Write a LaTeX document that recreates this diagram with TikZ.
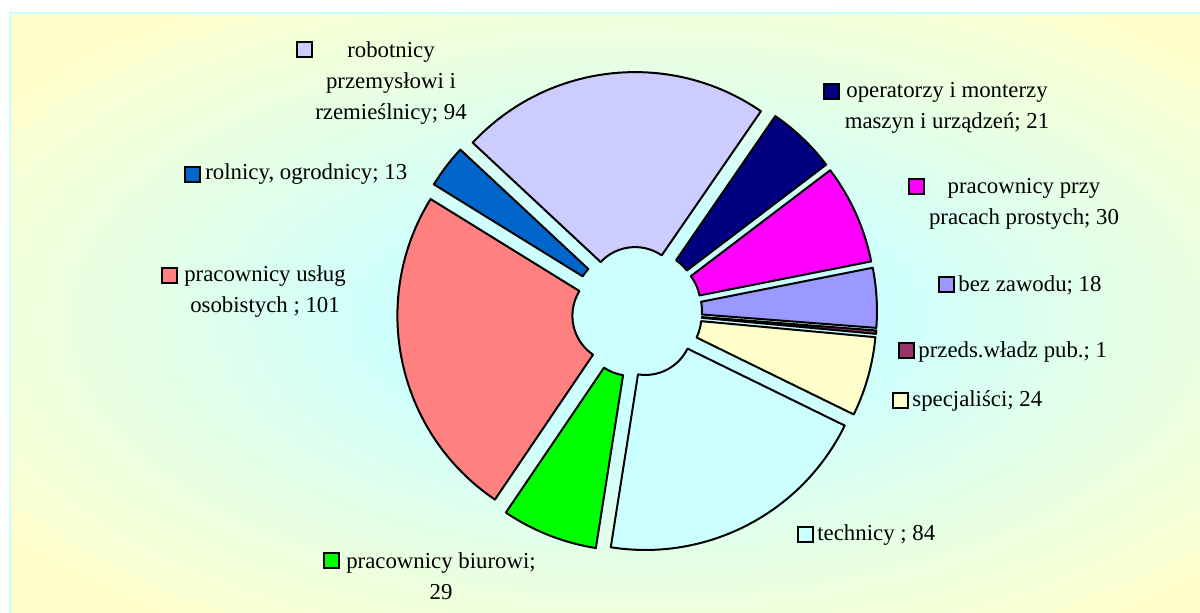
\documentclass[tikz,border=0pt]{standalone}
\usepackage{fontspec}
\setmainfont{Liberation Serif}

\definecolor{glowcyan}{HTML}{CCFFFF}
\definecolor{glowyellow}{HTML}{FFFFCC}
\definecolor{robcol}{HTML}{CCCCFF}
\definecolor{opecol}{HTML}{000080}
\definecolor{pracol}{HTML}{FF00FF}
\definecolor{bezcol}{HTML}{9999FF}
\definecolor{przcol}{HTML}{993366}
\definecolor{specol}{HTML}{FFFFCC}
\definecolor{teccol}{HTML}{CCFFFF}
\definecolor{biucol}{HTML}{00FF00}
\definecolor{uslcol}{HTML}{FF8080}
\definecolor{rolcol}{HTML}{0066CC}

\pgfdeclareradialshading{plotglow}{\pgfpoint{0bp}{0bp}}{color(0bp)=(glowcyan); color(9bp)=(glowcyan); color(31bp)=(glowyellow); color(50bp)=(glowyellow)}

\tikzset{
  slicebox/.style={draw=black, line width=1pt, line join=round},
  legkey/.style={draw=black, line width=1pt, minimum size=7.5pt, inner sep=0pt},
  legtext/.style={inner sep=0pt, font=\fontsize{11.4}{15.5}\selectfont},
}

\begin{document}
\begin{tikzpicture}[x=0.5pt, y=0.5pt]
\useasboundingbox (0,0) rectangle (1200,-613);
\fill[white] (0,0) rectangle (1200,-613);
\shade[shading=plotglow, draw=glowcyan, line width=1.2pt] (10,-13) rectangle (1264,-625);

% exploded slices round the centre (637,-312)
\foreach \sa/\ea/\col in {137/55.46/robcol, 55.46/37.24/opecol, 37.24/11.22/pracol,
  11.22/-4.39/bezcol, -4.39/-5.26/przcol, -5.26/-26.08/specol, -26.08/-98.95/teccol,
  -98.95/-124.11/biucol, -124.11/-211.72/uslcol, -211.72/-223/rolcol}{
  \pgfmathsetmacro{\midang}{(\sa+\ea)/2}
  \filldraw[slicebox, fill=\col, shift={(\midang:18)}]
    ([shift={(\sa:47)}]637,-312) -- ([shift={(\sa:222)}]637,-312)
    arc[start angle=\sa, end angle=\ea, radius=222]
    -- ([shift={(\ea:47)}]637,-312)
    arc[start angle=\ea, end angle=\sa, radius=47] -- cycle;
}

% legend
\node[legkey, fill=robcol] (keyrob) at (304,-50) {};
\node[legtext, align=center] (txtrob) at (391,-83) {robotnicy\\przemysłowi i\\rzemieślnicy; 94};
\node[legkey, fill=rolcol] (keyrol) at (192,-175) {};
\node[legtext, anchor=west] (txtrol) at (205,-174) {rolnicy, ogrodnicy; 13};
\node[legkey, fill=opecol] (keyope) at (831,-92) {};
\node[legtext, align=center] (txtope) at (947,-108) {operatorzy i monterzy\\maszyn i urządzeń; 21};
\node[legkey, fill=pracol] (keypra) at (916,-187) {};
\node[legtext, align=center] (txtpra) at (1024,-204) {pracownicy przy\\pracach prostych; 30};
\node[legkey, fill=bezcol] (keybez) at (946,-285) {};
\node[legtext, anchor=west] (txtbez) at (958,-285) {bez zawodu; 18};
\node[legkey, fill=przcol] (keyprz) at (906,-351) {};
\node[legtext, anchor=west] (txtprz) at (918,-352) {przeds.władz pub.; 1};
\node[legkey, fill=specol] (keyspe) at (900,-401) {};
\node[legtext, anchor=west] (txtspe) at (912,-401) {specjaliści; 24};
\node[legkey, fill=uslcol] (keyusl) at (169,-276) {};
\node[legtext, align=center] (txtusl) at (265,-292) {pracownicy usług\\osobistych ; 101};
\node[legkey, fill=biucol] (keybiu) at (331,-561) {};
\node[legtext, align=center] (txtbiu) at (441,-576) {pracownicy biurowi;\\29};
\node[legkey, fill=teccol] (keytec) at (805,-535) {};
\node[legtext, anchor=west] (txttec) at (817,-535) {technicy ; 84};
\end{tikzpicture}
\end{document}
